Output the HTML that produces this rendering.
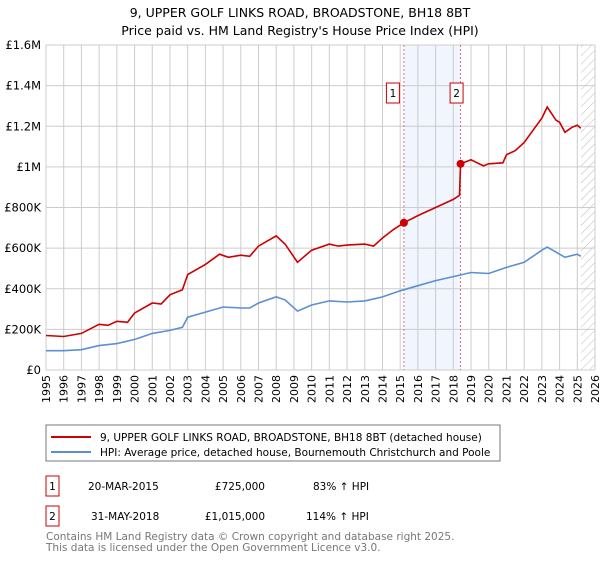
<!DOCTYPE html>
<html><head><meta charset="utf-8"><style>
body{margin:0;background:#fff;font-family:"DejaVu Sans","Liberation Sans",sans-serif;}
svg text{font-family:"DejaVu Sans","Liberation Sans",sans-serif;}
</style></head><body>
<svg id="c" width="600" height="560" xmlns="http://www.w3.org/2000/svg">
<defs><pattern id="h" width="6" height="6" patternUnits="userSpaceOnUse" patternTransform="rotate(45)"><line x1="0" y1="0" x2="0" y2="6" stroke="#bbb" stroke-width="1"/></pattern></defs>
<text x="300" y="17" text-anchor="middle" font-size="12.5">9, UPPER GOLF LINKS ROAD, BROADSTONE, BH18 8BT</text>
<text x="300" y="35" text-anchor="middle" font-size="12.5">Price paid vs. HM Land Registry's House Price Index (HPI)</text>
<g id="grid"></g><g id="marks"></g>
<rect x="46" y="425" width="454" height="36" fill="#fff" stroke="#777"/>
<line x1="51" y1="437" x2="91" y2="437" stroke="#cc0000" stroke-width="2"/>
<text x="100" y="441" font-size="10.5">9, UPPER GOLF LINKS ROAD, BROADSTONE, BH18 8BT (detached house)</text>
<line x1="51" y1="452" x2="91" y2="452" stroke="#5b8fd4" stroke-width="2"/>
<text x="100" y="456" font-size="10.5">HPI: Average price, detached house, Bournemouth Christchurch and Poole</text>
<rect x="46" y="476" width="13" height="20" fill="#fff" stroke="#cc0000"/>
<text x="52.5" y="490" text-anchor="middle" font-size="10.5">1</text>
<text x="88" y="490" font-size="10.5">20-MAR-2015</text>
<text x="265" y="490" text-anchor="end" font-size="10.5">£725,000</text>
<text x="313" y="490" font-size="10.5">83% ↑ HPI</text>
<rect x="46" y="506" width="13" height="20" fill="#fff" stroke="#cc0000"/>
<text x="52.5" y="520" text-anchor="middle" font-size="10.5">2</text>
<text x="91" y="520" font-size="10.5">31-MAY-2018</text>
<text x="265" y="520" text-anchor="end" font-size="10.5">£1,015,000</text>
<text x="306" y="520" font-size="10.5">114% ↑ HPI</text>
<text x="46" y="540" font-size="10.5" fill="#777">Contains HM Land Registry data © Crown copyright and database right 2025.</text>
<text x="46" y="551" font-size="10.5" fill="#777">This data is licensed under the Open Government Licence v3.0.</text>
</svg>
<script>
const yTicks=[0,200000,400000,600000,800000,1000000,1200000,1400000,1600000];
const yTickLabels=["£0","£200K","£400K","£600K","£800K","£1M","£1.2M","£1.4M","£1.6M"];
const xYears=[1995,1996,1997,1998,1999,2000,2001,2002,2003,2004,2005,2006,2007,2008,2009,2010,2011,2012,2013,2014,2015,2016,2017,2018,2019,2020,2021,2022,2023,2024,2025,2026];
const propT=[1995,1996,1997,1998,1998.5,1999,1999.6,2000,2001,2001.5,2002,2002.7,2003,2004,2004.8,2005.3,2006,2006.5,2007,2008,2008.5,2009.2,2010,2011,2011.5,2012,2013,2013.5,2014,2014.6,2015.21,2016,2017,2018,2018.35,2018.41,2019,2019.7,2020,2020.8,2021,2021.5,2022,2022.5,2023,2023.3,2023.8,2024,2024.3,2024.7,2025,2025.2];
const propV=[170,165,180,225,220,240,235,280,330,325,370,395,470,520,570,555,565,560,610,660,620,530,590,620,610,615,620,610,650,690,725,760,800,840,860,1015,1035,1005,1015,1020,1060,1080,1120,1180,1240,1295,1230,1220,1170,1195,1205,1190];
const hpiT=[1995,1996,1997,1998,1999,2000,2001,2002,2002.7,2003,2004,2005,2006,2006.5,2007,2008,2008.5,2009.2,2010,2011,2012,2013,2014,2015,2016,2017,2018,2019,2020,2021,2022,2023,2023.3,2024,2024.3,2025,2025.2];
const hpiV=[95,95,100,120,130,150,180,195,210,260,285,310,305,305,330,360,345,290,320,340,335,340,360,390,415,440,460,480,475,505,530,590,605,570,555,570,560];
const sales=[[2015.21,725000,"1"],[2018.41,1015000,"2"]];
const L=46,R=595,T=45,B=370,NS="http://www.w3.org/2000/svg";
const xs=y=>L+(y-1995)/(2026-1995)*(R-L);
const ys=v=>B-v/1600000*(B-T);
const g=document.getElementById('grid'),m=document.getElementById('marks');
function el(t,a,p){const e=document.createElementNS(NS,t);for(const k in a)e.setAttribute(k,a[k]);p.appendChild(e);return e;}
let s=el('rect',{x:xs(2015.21),y:T,width:xs(2018.41)-xs(2015.21),height:B-T,fill:'#eef3fd',opacity:0.8},g);


let hz=el('rect',{x:xs(2025.2),y:T,width:R-xs(2025.2),height:B-T,fill:'url(#h)'},g);


yTicks.forEach((v,i)=>{el('line',{x1:L,x2:R,y1:ys(v),y2:ys(v),stroke:'#ccc'},g);
const t=el('text',{x:L-5,y:ys(v)+4,'text-anchor':'end','font-size':'11.5'},g);t.textContent=yTickLabels[i];

});
xYears.forEach(y=>{el('line',{x1:xs(y),x2:xs(y),y1:T,y2:B,stroke:'#ccc'},g);
const t=el('text',{x:0,y:0,'text-anchor':'end','font-size':'11',transform:`translate(${xs(y)+4},${B+5}) rotate(-90)`},g);t.textContent=y;

});
el('line',{x1:L,x2:L,y1:T,y2:B,stroke:'#ccc'},g);
sales.forEach(sv=>{const x=xs(sv[0]);el('line',{x1:x,x2:x,y1:T,y2:B,stroke:'#e05050','stroke-dasharray':'2,2','stroke-width':0.8},g);
const bx=x-(sv[2]=="1"?11:4)-6.5;el('rect',{x:bx,y:83,width:13,height:20,fill:'#fff',stroke:'#cc0000'},g);
const t=el('text',{x:bx+6.5,y:97,'text-anchor':'middle','font-size':'10.5'},g);t.textContent=sv[2];

});
function path(T2,V,c,n){const d=T2.map((t,i)=>(i?'L':'M')+xs(t).toFixed(1)+','+ys(V[i]*1000).toFixed(1)).join('');
const p=el('path',{d:d,fill:'none',stroke:c,'stroke-width':1.6},m);

}
path(hpiT,hpiV,'#5b8fd4','hpi-line');
path(propT,propV,'#cc0000','property-line');
sales.forEach(sv=>{const c=el('circle',{cx:xs(sv[0]),cy:ys(sv[1]),r:4,fill:'#cc0000'},m);

});
</script>
</body></html>
